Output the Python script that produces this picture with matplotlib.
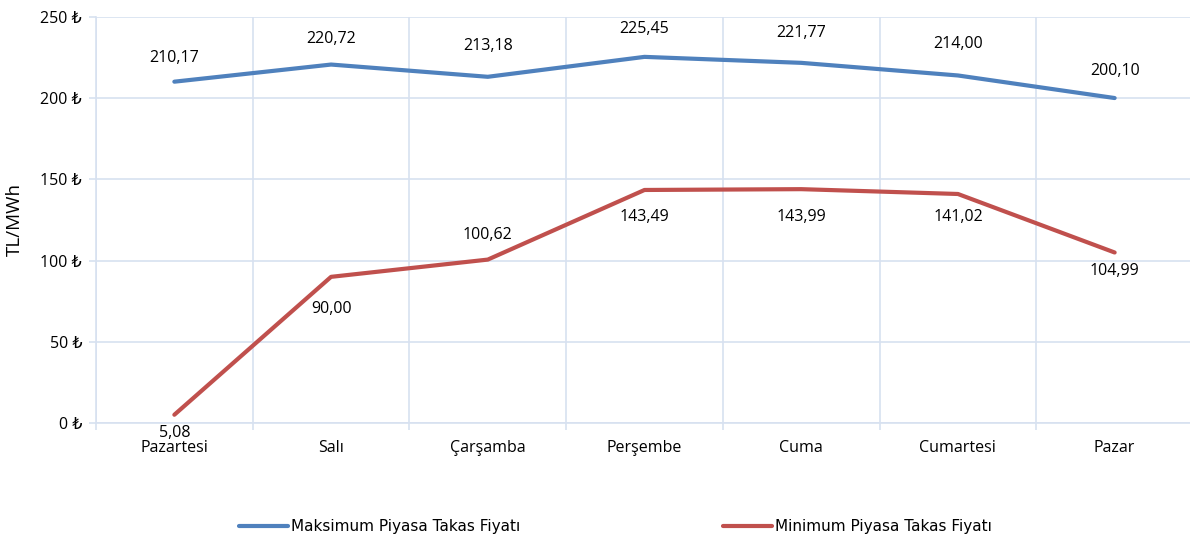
import numpy as np
import matplotlib
matplotlib.use('Agg')
import matplotlib.pyplot as plt

plt.rcParams['font.family'] = ['Open Sans', 'DejaVu Sans']

gunler = ['Pazartesi', 'Salı', 'Çarşamba', 'Perşembe', 'Cuma', 'Cumartesi', 'Pazar']
maks_ptf = [210.17, 220.72, 213.18, 225.45, 221.77, 214.00, 200.10]
min_ptf = [5.08, 90.00, 100.62, 143.49, 143.99, 141.02, 104.99]
y_ticks = [0, 50, 100, 150, 200, 250]

mavi = '#4F81BD'
kirmizi = '#C0504D'
izgara = '#D7E1F0'

# etiket kaymalari (piksel)
maks_off = [24, 26, 31, 28, 30, 31, 27]
min_off = [-18, -32, 25, -27, -28, -23, -19]

fig = plt.figure(figsize=(11.9, 5.39), dpi=100)
ax = fig.add_axes([96/1190, 1-423/539, (1193-96)/1190, (423-17)/539])

x = np.arange(len(gunler))
ax.plot(x, maks_ptf, color=mavi, lw=3, solid_capstyle='round', solid_joinstyle='round',
        label='Maksimum Piyasa Takas Fiyatı', zorder=3)
ax.plot(x, min_ptf, color=kirmizi, lw=3, solid_capstyle='round', solid_joinstyle='round',
        label='Minimum Piyasa Takas Fiyatı', zorder=3)

def fmt(v):
    return f'{v:.2f}'.replace('.', ',')

for i in range(len(gunler)):
    ax.annotate(fmt(maks_ptf[i]), (x[i], maks_ptf[i]), xytext=(0, maks_off[i]),
                textcoords='offset pixels', ha='center', va='center', fontsize=11.5)
    ax.annotate(fmt(min_ptf[i]), (x[i], min_ptf[i]), xytext=(0, min_off[i]),
                textcoords='offset pixels', ha='center', va='center', fontsize=11.5)

ax.set_xlim(-0.5, len(gunler) - 0.5)
ax.set_ylim(0, 250)
ax.set_yticks(y_ticks)
ax.set_yticklabels([f'{v} ₺' for v in y_ticks], fontsize=11.5)
ax.set_xticks(x)
ax.set_xticklabels(gunler, fontsize=11.5)
ax.set_xticks(np.arange(len(gunler) + 1) - 0.5, minor=True)
ax.tick_params(axis='x', which='major', length=0, pad=12)
ax.tick_params(axis='x', which='minor', length=5, color=izgara, width=1.2)
ax.tick_params(axis='y', length=5, color=izgara, width=1.2, pad=5)

ax.grid(True, axis='y', color=izgara, lw=1.2)
ax.grid(True, axis='x', which='minor', color=izgara, lw=1.2)
for s in ['top', 'right']:
    ax.spines[s].set_visible(False)
for s in ['left', 'bottom']:
    ax.spines[s].set_color(izgara)
    ax.spines[s].set_linewidth(1.2)

ax.set_ylabel('TL/MWh', fontsize=13.5, labelpad=12)

fig.legend(loc='center left', bbox_to_anchor=(225/1190, 1-527/539), ncol=2, frameon=False,
           handlelength=3.2, handletextpad=0.2, columnspacing=13.3,
           prop={'family': ['Liberation Sans Narrow', 'DejaVu Sans'], 'size': 11})

fig.savefig('out.png', dpi=100)
